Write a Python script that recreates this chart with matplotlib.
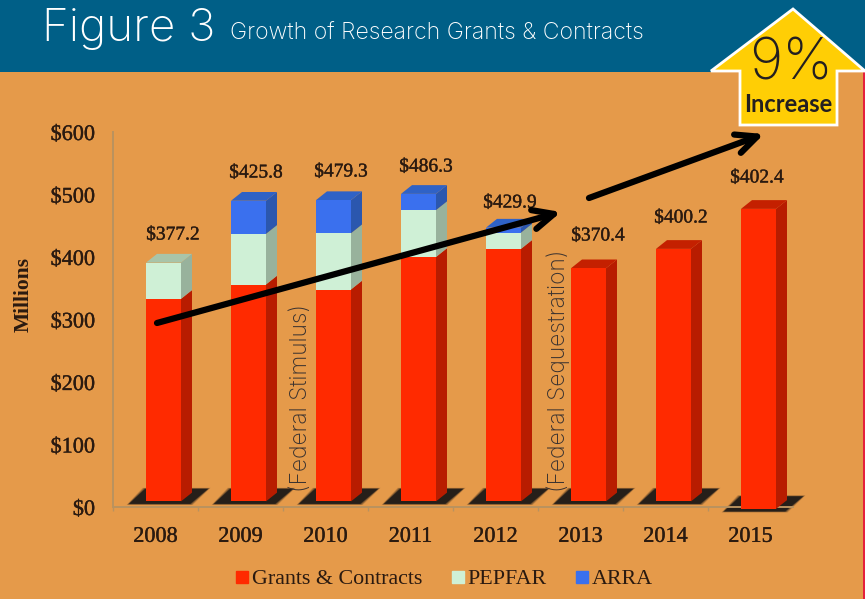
import numpy as np
import matplotlib
matplotlib.use("Agg")
import matplotlib.pyplot as plt
import matplotlib.patheffects as pe
from matplotlib.patches import Polygon, Rectangle
from matplotlib.lines import Line2D
from matplotlib.transforms import ScaledTranslation

W, H = 865, 599

years = ["2008", "2009", "2010", "2011", "2012", "2013", "2014", "2015"]
grants = [333, 356, 348, 400, 413, 382, 413, 477]
pepfar = [58, 81, 90, 75, 26, 0, 0, 0]
arra = [0, 53, 53, 26, 8, 0, 0, 0]
bar_base = [9, 9, 9, 9, 9, 9, 9, -3]
total_labels = ["$377.2", "$425.8", "$479.3", "$486.3", "$429.9", "$370.4", "$400.2", "$402.4"]
label_x = [173, 256, 341, 426, 510, 598, 681, 757]
label_y = [235, 173, 172, 167, 203, 236, 218, 178]
yticks = [0, 100, 200, 300, 400, 500, 600]

BG = "#E59A4A"
HEADER = "#005F87"
INK = "#2A1A10"
SERIF = "Liberation Serif"
LIGHT = ["Inter", "DejaVu Sans"]

# colours: front, side, top
RED = ("#FF2A00", "#B81C00", "#C42000")
GREEN = ("#CFF0D6", "#98B29C", "#A9C4A9")
BLUE = ("#3A70EE", "#2B57AE", "#2F62C6")

BAR_W = 35 / 85
BAR_OFF = 8 / 85
DEPTH_X = 11 / 85
DEPTH_Y = 14
HEAVY = [pe.withStroke(linewidth=0.25, foreground=INK)]


def px_rect(x0, y0, x1, y1):
    return [x0 / W, 1 - y1 / H, (x1 - x0) / W, (y1 - y0) / H]


def draw_segment(ax, i, lo, hi, colors, top=False):
    x0 = i + BAR_OFF - BAR_W / 2
    x1 = x0 + BAR_W
    ax.bar(x0, hi - lo, BAR_W, bottom=lo, align="edge", color=colors[0], zorder=4, clip_on=False)
    ax.fill([x1, x1 + DEPTH_X, x1 + DEPTH_X, x1],
            [lo, lo + DEPTH_Y, hi + DEPTH_Y, hi], color=colors[1], lw=0, zorder=3, clip_on=False)
    if top:
        ax.fill([x0, x0 + DEPTH_X, x1 + DEPTH_X, x1],
                [hi, hi + DEPTH_Y, hi + DEPTH_Y, hi], color=colors[2], lw=0, zorder=3, clip_on=False)


def draw_shadow(ax, i, base):
    # soft dark parallelogram under each bar
    x0 = i + BAR_OFF - BAR_W / 2
    xs = np.array([x0 - 0.2, x0 + 0.52, x0 + 0.73, x0 - 0.01])
    ys = np.array([base - 4, base - 4, base + 20, base + 20])
    for grow, alpha in [(0.03, 0.12), (0.024, 0.15), (0.018, 0.2), (0.012, 0.25), (0.006, 0.35), (0, 0.85)]:
        ax.fill(xs + np.array([-grow, grow, grow, -grow]), ys + np.array([-1, -1, 1, 1]) * grow * 60,
                color="#1E1A18", alpha=alpha, lw=0, zorder=2, clip_on=False)


fig = plt.figure(figsize=(W / 100, H / 100), dpi=100, facecolor=BG)

# chart axes: $0 at y=507, $600 at y=132, categories 85px apart from x=113
ax = fig.add_axes(px_rect(113, 132, 793, 507))
ax.set_facecolor("none")
ax.set_xlim(-0.5, 7.5)
ax.set_ylim(0, 600)
for s in ["top", "right"]:
    ax.spines[s].set_visible(False)
for s in ["left", "bottom"]:
    ax.spines[s].set_color("#B9925F")
    ax.spines[s].set_linewidth(1.4)
ax.set_xticks(range(len(years)))
ax.set_xticklabels(years, family=SERIF, fontsize=16, color=INK, path_effects=HEAVY)
ax.set_yticks(yticks)
ax.set_yticklabels(["$%d" % v for v in yticks], family=SERIF, fontsize=16, color=INK, path_effects=HEAVY)
ax.set_xticks(np.arange(-0.5, 7.5, 1), minor=True)
ax.tick_params(axis="x", which="major", length=0, pad=15)
ax.tick_params(axis="x", which="minor", length=3, color="#B9925F", width=1)
ax.tick_params(axis="y", length=0, pad=13)
nudge = ScaledTranslation(0, -0.01, fig.dpi_scale_trans)
for lab in ax.get_yticklabels():
    lab.set_transform(lab.get_transform() + nudge)
ax.set_ylabel("Millions", family=SERIF, fontweight="bold", fontsize=15.5, color=INK)
ax.yaxis.set_label_coords((34 - 113) / 680, (507 - 295) / 375)

for i in range(len(years)):
    base = bar_base[i]
    draw_shadow(ax, i, base)
    g_top = grants[i]
    p_top = g_top + pepfar[i]
    a_top = p_top + arra[i]
    draw_segment(ax, i, base, g_top, RED, top=(pepfar[i] == 0))
    if pepfar[i]:
        draw_segment(ax, i, g_top, p_top, GREEN, top=(arra[i] == 0))
    if arra[i]:
        draw_segment(ax, i, p_top, a_top, BLUE, top=True)

handles = [Line2D([], [], ls="", marker="s", ms=8.5, color=c[0]) for c in (RED, GREEN, BLUE)]
leg = ax.legend(handles, ["Grants & Contracts", "PEPFAR", "ARRA"], ncol=3, frameon=False,
                loc="center", bbox_to_anchor=((441 - 113) / 680, (507 - 579) / 375),
                prop={"family": SERIF, "size": 15.8}, labelcolor=INK,
                handletextpad=-0.15, columnspacing=1.0, handlelength=1.2)

# overlay in image pixels for the banner, callout and arrows
over = fig.add_axes([0, 0, 1, 1], zorder=5)
over.set_xlim(0, W)
over.set_ylim(H, 0)
over.axis("off")
over.patch.set_alpha(0)

over.add_patch(Rectangle((0, 0), W, 72, color=HEADER, lw=0, zorder=1))
over.add_patch(Rectangle((863, 72), 2, H - 72, color="#E5213C", lw=0, zorder=1))
over.text(42, 29, "Figure 3", family=LIGHT, fontweight="light", fontsize=33, color="white",
          va="center", ha="left")
over.text(230, 34, "Growth of Research Grants & Contracts", family=LIGHT, fontweight="light",
          fontsize=16.6, color="white", va="center", ha="left")

arrow_pts = [(793, 9), (711, 71), (740, 71), (740, 125), (837, 125), (837, 71), (865, 71)]
over.add_patch(Polygon(arrow_pts, closed=True, fc="#FFCE05", ec="white", lw=2, joinstyle="miter",
                       clip_on=False, zorder=2))
over.text(791, 64, "9%", family=LIGHT, fontweight="light", fontsize=41, color="#231F20",
          ha="center", va="center", zorder=3)
over.text(788, 105, "Increase", family=["Lato", "DejaVu Sans"], fontweight="bold", fontsize=17,
          color="#231F20", ha="center", va="center", zorder=3)

for txt, xt in [("(Federal Stimulus)", 301), ("(Federal Sequestration)", 558)]:
    over.text(xt, 492, txt, rotation=90, family=LIGHT, fontweight="light", fontsize=16.4,
              color="#3A3230", ha="center", va="bottom", zorder=3)

for lab, x, y in zip(total_labels, label_x, label_y):
    over.text(x, y, lab, family=SERIF, fontsize=14, color=INK, ha="center", va="center", zorder=3,
              path_effects=HEAVY)

for start, end in [((157, 323), (561, 212)), ((589, 198), (764, 134))]:
    over.annotate("", xy=end, xytext=start, zorder=4,
                  arrowprops=dict(arrowstyle="->,head_length=1.5,head_width=0.7", lw=4.5, color="black",
                                  shrinkA=0, shrinkB=0))

fig.savefig("out.png", dpi=100, facecolor=BG)
